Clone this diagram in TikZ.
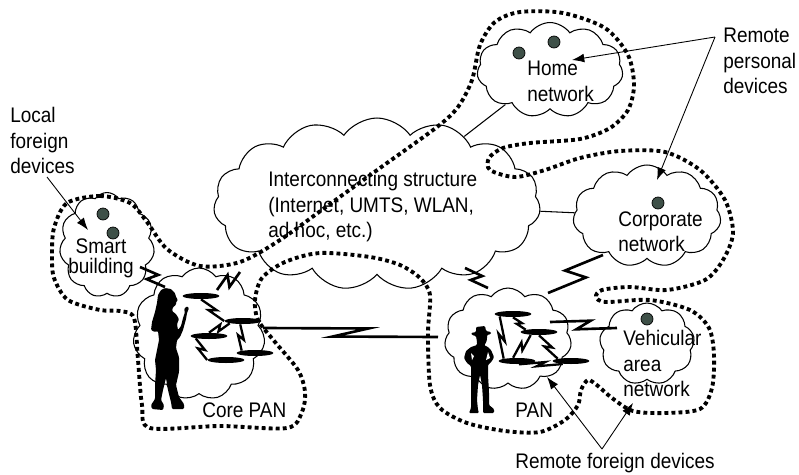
\documentclass[tikz,border=0pt]{standalone}
\usepackage{fontspec}
\setmainfont{Liberation Sans}[FakeStretch=0.9]
\usepackage{tikz}
\usetikzlibrary{shapes.symbols,shapes.geometric,calc,arrows.meta}

\definecolor{devgreen}{RGB}{62,80,72}

\begin{document}
\begin{tikzpicture}[x=0.02cm, y=-0.02cm,
    zap/.style={line width=1.5pt, to path={
        -- ($(\tikztostart)!.6!(\tikztotarget)!#1!90:(\tikztotarget)$)
        -- ($(\tikztostart)!.4!(\tikztotarget)!#1!-90:(\tikztotarget)$)
        -- (\tikztotarget)}},
    zap/.default=3pt]
  \tikzstyle{net} = [cloud, cloud puffs=11, cloud puff arc=110, cloud ignores aspect,
                     draw, line width=0.6pt, inner sep=0pt]
  \tikzstyle{fence} = [line width=2.2pt, dash pattern=on 2.2pt off 1.8pt]
  \tikzstyle{device} = [circle, fill=devgreen, draw=black, line width=0.4pt,
                        minimum size=0.24cm, inner sep=0pt]
  \tikzstyle{radio} = [ellipse, fill=black, minimum width=0.74cm,
                       minimum height=0.12cm, inner sep=0pt]
  \tikzstyle{txt} = [font=\fontsize{12}{14.5}\selectfont, inner sep=0pt,
                     align=left, anchor=north west]
  \tikzstyle{pointer} = [draw, -{Latex[length=7pt,width=5pt]}, line width=0.5pt]
  \tikzstyle{link} = [draw, line width=0.6pt]

  \useasboundingbox (0,0) rectangle (799,474);

  % networks
  \node[net, minimum width=6.54cm, minimum height=3.44cm, cloud puffs=15] (inter) at (377,204) {};
  \node[net, minimum width=1.90cm, minimum height=2.10cm] (smart) at (107,245) {};
  \node[net, minimum width=2.64cm, minimum height=2.64cm] (corepan) at (199,334) {};
  \node[net, minimum width=2.92cm, minimum height=1.90cm] (home) at (550,70) {};
  \node[net, minimum width=2.96cm, minimum height=2.04cm] (corp) at (647,216) {};
  \node[net, minimum width=2.54cm, minimum height=2.04cm] (pan) at (508,339) {};
  \node[net, minimum width=1.90cm, minimum height=1.64cm, cloud puffs=9] (vehic) at (647,344) {};

  \path[link] (inter) -- (home);
  \path[link] (inter) -- (corp);

  % devices
  \node[device] (sb1dev) at (103,214) {};
  \node[device] (sb2dev) at (113,233) {};
  \node[device] (hm1dev) at (519,53) {};
  \node[device] (hm2dev) at (554,42) {};
  \node[device] (cpdev) at (658,203) {};
  \node[device] (vhdev) at (647,319) {};

  % people
  \fill[rounded corners=0.6pt] (165,288) -- (171,289) -- (175,293) -- (176,297) -- (178,300)
    -- (176,302) -- (176,305) -- (173,307) -- (172,311) -- (176,314) -- (179,319) -- (177,324)
    -- (178,330) -- (181,326) -- (183,318) -- (185,312) -- (184,309) -- (187,306) -- (189,308)
    -- (187,313) -- (186,319) -- (183,330) -- (180,337) -- (177,340) -- (176,348) -- (179,357)
    -- (179,372) -- (176,385) -- (179,397) -- (184,404) -- (184,409) -- (172,409) -- (171,402)
    -- (168,390) -- (166,378) -- (163,390) -- (161,400) -- (164,405) -- (163,410) -- (152,409)
    -- (151,405) -- (155,399) -- (155,385) -- (156,370) -- (155,360) -- (157,350) -- (159,340)
    -- (158,331) -- (155,332) -- (151,330) -- (152,322) -- (155,312) -- (157,303) -- (158,295)
    -- (161,290) -- cycle;
  \fill[rounded corners=0.6pt] (476,327) -- (485,326) -- (486,331) -- (491,332) -- (491,334)
    -- (487,335) -- (487,339) -- (486,343) -- (484,345) -- (488,347) -- (491,350) -- (494,357)
    -- (492,361) -- (488,365) -- (488,375) -- (489,392) -- (489,405) -- (494,409) -- (494,413)
    -- (483,413) -- (483,400) -- (482,385) -- (480,375) -- (478,385) -- (477,400) -- (478,410)
    -- (479,413) -- (469,413) -- (471,408) -- (471,393) -- (471,378) -- (471,366) -- (467,363)
    -- (464,358) -- (466,351) -- (471,347) -- (477,345) -- (477,342) -- (476,336) -- (472,335)
    -- (471,333) -- (476,332) -- cycle;
  \fill[white] (471,353) -- (472,360) -- (474,356) -- cycle;
  \fill[white] (488,352) -- (490,358) -- (486,360) -- cycle;

  % radios in the PANs
  \node[radio] (c1) at (201,296) {};
  \node[radio] (c2) at (243,321) {};
  \node[radio] (c3) at (209,336) {};
  \node[radio] (c4) at (255,353) {};
  \node[radio] (c5) at (226,360) {};
  \node[radio] (p1) at (513,314) {};
  \node[radio] (p2) at (539,332) {};
  \node[radio] (p3) at (517,361) {};
  \node[radio] (p4) at (571,361) {};

  \draw[zap=1.6pt, line width=1.3pt] (c1.south) to (c2.west);
  \draw[zap=1.6pt, line width=1.3pt] (c3.north) to (c2.south west);
  \draw[zap=1.6pt, line width=1.3pt] (c2.230) to (c4.north west);
  \draw[zap=1.6pt, line width=1.3pt] (c3.south west) to (c5.west);
  \draw[zap=1.6pt, line width=1.3pt] (p1.south west) to (p3.north west);
  \draw[zap=1.6pt, line width=1.3pt] (p3.140) to (p2.200);
  \draw[zap=1.6pt, line width=1.3pt] (p2.south) to (p4.north west);
  \draw[zap=1.2pt, line width=1.3pt] (p1.south) to (p2.north west);
  \draw[zap=1.2pt, line width=1.3pt] (p3.-60) to (p4.200);

  % wireless links between the networks
  \coordinate (sb1) at (140,267);  \coordinate (sb2) at (165,287);
  \coordinate (ci1) at (217,290);  \coordinate (ci2) at (240,272);
  \coordinate (cp1) at (263,328);  \coordinate (cp2) at (438,337);
  \coordinate (pi1) at (465,268);  \coordinate (pi2) at (488,288);
  \coordinate (pc1) at (548,293);  \coordinate (pc2) at (603,255);
  \coordinate (pv1) at (550,322);  \coordinate (pv2) at (617,328);
  \draw[zap] (sb1) to (sb2);
  \draw[zap] (ci1) to (ci2);
  \draw[zap=2.8pt] (cp1) to (cp2);
  \draw[zap] (pi1) to (pi2);
  \draw[zap=-5pt] (pc1) to (pc2);
  \draw[zap=2.8pt] (pv1) to (pv2);

  % personal network boundary
  \draw[fence] plot[smooth cycle, tension=0.5] coordinates {
    (67,203) (100,196) (130,203) (147,222) (167,249) (200,266) (240,262) (280,240)
    (330,204) (380,168) (437,127) (458,107) (472,80) (480,45) (495,22) (520,12)
    (563,13) (605,28) (628,55) (634,85) (628,110) (610,128) (580,139) (530,143)
    (503,148) (489,158) (490,170) (515,177) (545,170) (580,158) (620,151) (665,152)
    (700,170) (725,200) (733,233) (723,260) (705,280) (667,290) (630,287) (602,290)
    (596,297) (606,302) (650,300) (690,310) (709,328) (714,355) (712,388) (700,409)
    (665,413) (633,411) (612,398) (598,386) (588,380) (581,390) (578,405) (565,420)
    (540,432) (505,431) (467,423) (440,408) (430,385) (428,333) (430,295) (420,278)
    (400,265) (370,257) (320,253) (285,262) (262,278) (255,300) (258,320) (275,342)
    (298,370) (305,392) (302,412) (287,428) (220,426) (150,428) (142,405) (138,360)
    (134,318) (120,311) (100,310) (68,300) (54,278) (52,255) (54,228)};

  % labels
  \node[txt] (localtxt) at (10,107) {Local\\foreign\\devices};
  \node[txt] (intertxt) at (268,171) {Interconnecting structure\\(Internet, UMTS, WLAN,\\ad hoc, etc.)};
  \node[txt] (hometxt) at (527,61) {Home\\network};
  \node[txt] (remtxt) at (723,28) {Remote\\personal\\devices};
  \node[txt, align=center, anchor=north, font=\fontsize{12}{11.5}\selectfont] (smarttxt) at (101,238) {Smart\\building};
  \node[txt] (corptxt) at (618,211) {Corporate\\network};
  \node[txt] (vehtxt) at (623,330) {Vehicular\\area\\network};
  \node[txt] (coretxt) at (202,402) {Core PAN};
  \node[txt] (pantxt) at (515,403) {PAN};
  \node[txt] (rfdtxt) at (515,453) {Remote foreign devices};

  % pointers
  \coordinate (lfd) at (47,177);  \coordinate (lfdtip) at (88,230);
  \coordinate (rpd) at (715,37);  \coordinate (hometip) at (572,60);
  \coordinate (corptip) at (657,180);
  \coordinate (rfd) at (602,449); \coordinate (pantip) at (547,377);
  \coordinate (vehtip) at (633,403);
  \path[pointer] (lfd) -- (lfdtip);
  \path[pointer] (rpd) -- (hometip);
  \path[pointer] (rpd) -- (corptip);
  \path[pointer] (rfd) -- (pantip);
  \path[pointer] (rfd) -- (vehtip);
\end{tikzpicture}
\end{document}
